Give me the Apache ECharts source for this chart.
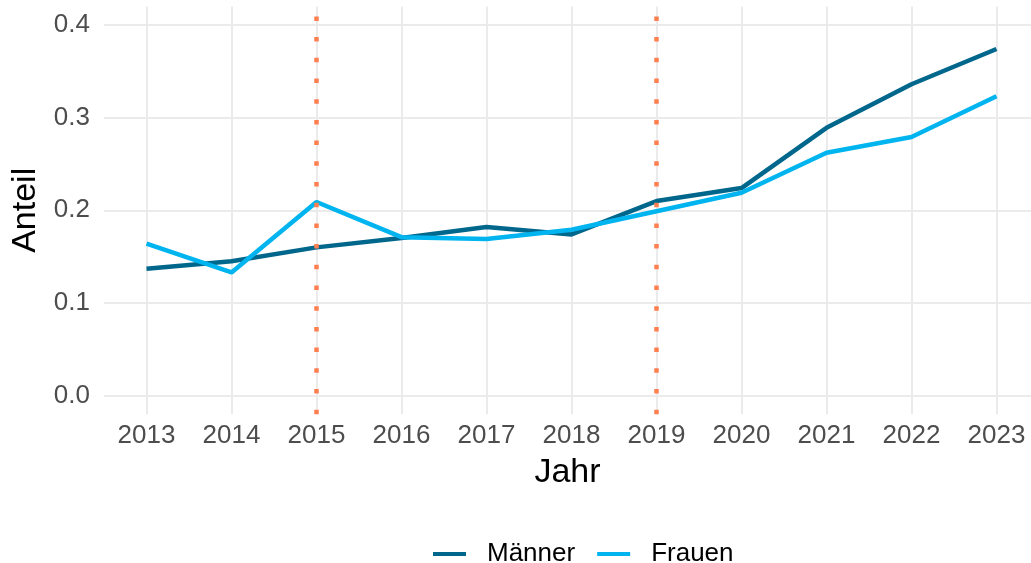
<!DOCTYPE html>
<html><head><meta charset="utf-8">
<script src="https://cdn.jsdelivr.net/npm/echarts@6/dist/echarts.min.js"></script>
<style>html,body{margin:0;padding:0;background:#fff}#c{width:1031px;height:563px}</style>
</head><body><div id="c"></div>
<script>
const years = [2013,2014,2015,2016,2017,2018,2019,2020,2021,2022,2023];
const maenner = [0.137,0.145,0.160,0.170,0.182,0.174,0.210,0.224,0.289,0.336,0.374];
const frauen  = [0.164,0.133,0.209,0.171,0.169,0.179,0.199,0.219,0.262,0.279,0.323];
const yTicks = [0.0,0.1,0.2,0.3,0.4];
const markYears = [2015,2019];

const chart = echarts.init(document.getElementById('c'), null, {renderer:'canvas'});
const font = 'Liberation Sans, Arial, sans-serif';
chart.setOption({
  animation:false,
  backgroundColor:'#fff',
  grid:{left:104, top:6.4, width:927, height:407.8},
  xAxis:{type:'value', min:2012.5, max:2023.406,
    axisLine:{show:false}, axisTick:{show:false, customValues:years},
    axisLabel:{customValues:years, color:'#4d4d4d', fontSize:26, fontFamily:font, margin:9, formatter:v=>String(v)},
    splitLine:{show:true, lineStyle:{color:'#ebebeb', width:2}},
    name:'Jahr', nameLocation:'middle', nameGap:41,
    nameTextStyle:{color:'#000', fontSize:34, fontFamily:font}},
  yAxis:{type:'value', min:-0.02, max:0.42,
    axisLine:{show:false}, axisTick:{show:false, customValues:yTicks},
    axisLabel:{customValues:yTicks, color:'#4d4d4d', fontSize:26, fontFamily:font, margin:14, formatter:v=>v.toFixed(1)},
    splitLine:{show:true, lineStyle:{color:'#ebebeb', width:2}},
    name:'Anteil', nameLocation:'middle', nameGap:53, nameRotate:90,
    nameTextStyle:{color:'#000', fontSize:34, fontFamily:font}},
  legend:{left:428, top:536, itemWidth:33, itemHeight:4, itemGap:22, icon:'rect',
    textStyle:{color:'#000', fontSize:26, fontFamily:font, padding:[0,0,0,16]},
    data:['Männer','Frauen']},
  series:[
    {name:'vlines', type:'line', data:[], silent:true, z:1,
      markLine:{silent:true, symbol:'none', label:{show:false},
        lineStyle:{color:'#ff7f50', width:4.5, type:[4.5,16.2]},
        data:markYears.map(y=>({xAxis:y}))}},
    {name:'Männer', type:'line', showSymbol:false, symbol:'none', z:3,
      color:'#00678c', lineStyle:{width:4.5, color:'#00678c'},
      data:years.map((y,i)=>[y,maenner[i]])},
    {name:'Frauen', type:'line', showSymbol:false, symbol:'none', z:4,
      color:'#00b4ef', lineStyle:{width:4.5, color:'#00b4ef'},
      data:years.map((y,i)=>[y,frauen[i]])}
  ]
});
</script></body></html>
